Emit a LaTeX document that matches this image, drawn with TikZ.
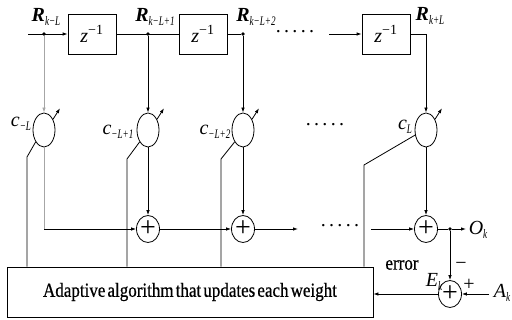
\documentclass[tikz,border=0pt]{standalone}
\usepackage{fontspec}
\setmainfont{Liberation Serif}
\newfontfamily\narrowserif[FakeStretch=0.85,WordSpace=0.5,FakeBold=0.6]{Liberation Serif}
\newfontfamily\subserif[FakeStretch=0.7]{Liberation Serif}
\usetikzlibrary{shapes.geometric,arrows.meta}

\newcommand{\sig}[2]{\textit{#1}\raisebox{-4pt}{\fontsize{13}{13}\selectfont\mdseries\subserif\itshape #2}}

\begin{document}
\begin{tikzpicture}[x=1pt,y=-1pt,line width=0.8pt,
		every node/.style={font=\fontsize{20}{22}\selectfont},
		delay/.style={draw,minimum width=48pt,minimum height=40pt,inner sep=0pt},
		weight/.style={draw,ellipse,minimum width=22pt,minimum height=34pt,inner sep=0pt},
		adder/.style={draw,ellipse,minimum width=23pt,minimum height=27pt,inner sep=0pt,
			font=\fontsize{28}{28}\selectfont},
		tap/.style={circle,fill,inner sep=1.4pt},
		tapname/.style={font=\fontsize{20}{22}\selectfont\bfseries},
		arr/.style={-{Latex[length=5pt,width=3.5pt]}},
		faint/.style={gray!70}]
		\useasboundingbox (0,0) rectangle (512,320);

		% delay line
		\coordinate (in) at (28,34);
		\node[tap] (t1) at (44,34) {};
		\node[delay] (d1) at (92,34) {\textit{z}\textsuperscript{−1}};
		\node[tap] (t2) at (148,34) {};
		\node[delay] (d2) at (203,34) {\textit{z}\textsuperscript{−1}};
		\node[tap] (t3) at (243,34) {};
		\node (hdots) at (295,32) {.\,.\,.\,.\,.};
		\coordinate (dl) at (329,34);
		\node[delay] (d3) at (386,34) {\textit{z}\textsuperscript{−1}};
		\coordinate (t4) at (426,34);

		\draw[arr] (in) -- (d1.west);
		\draw (d1.east) -- (d2.west);
		\draw (d2.east) -- (t3);
		\draw[arr] (dl) -- (d3.west);
		\draw (d3.east) -- (t4);

		\node[tapname] (r1) at (46,17) {\sig{R}{k−L}};
		\node[tapname] (r2) at (155,17) {\sig{R}{k−L+1}};
		\node[tapname] (r3) at (256,17) {\sig{R}{k−L+2}};
		\node[tapname] (r4) at (430,16) {\sig{R}{k+L}};

		% weights
		\node[weight] (w1) at (44,130) {};
		\node[weight] (w2) at (148,130) {};
		\node[weight] (w3) at (243,130) {};
		\node[weight] (w4) at (426,130) {};
		\node (vdots) at (325,125) {.\,.\,.\,.\,.};

		\draw[arr,faint] (t1) -- (w1.north);
		\draw[arr] (t2) -- (w2.north);
		\draw[arr] (t3) -- (w3.north);
		\draw[arr] (t4) -- (w4.north);

		\foreach \w in {w1, w2, w3, w4}
			\draw[-{Latex[length=5pt,width=3.5pt]}] (\w.50) -- ++(7,-11);

		\node (c1) at (21,124) {\sig{c}{−L}};
		\node (c2) at (118,132) {\sig{c}{−L+1}};
		\node (c3) at (215,132) {\sig{c}{−L+2}};
		\node (c4) at (405,127) {\sig{c}{L}};

		% adders
		\node[adder] (s2) at (148,229) {+};
		\node[adder] (s3) at (243,229) {+};
		\node[adder] (s4) at (426,229) {+};
		\node (sdots) at (340,226) {.\,.\,.\,.\,.};
		\coordinate (s1) at (44,229);
		\coordinate (sr) at (298,229);
		\coordinate (sl) at (371,229);
		\node[tap] (o) at (450,229) {};
		\coordinate (oe) at (466,229);
		\node (ok) at (478,230) {\sig{O}{k}};

		\draw[faint] (w1.south) -- (s1);
		\draw[arr] (s1) -- (s2.west);
		\draw[arr] (w2.south) -- (s2.north);
		\draw[arr] (w3.south) -- (s3.north);
		\draw[arr] (w4.south) -- (s4.north);
		\draw[arr] (s2.east) -- (s3.west);
		\draw[arr] (s3.east) -- (sr);
		\draw[arr] (sl) -- (s4.west);
		\draw (s4.east) -- (o);
		\draw[arr] (o) -- (oe);

		% adaptive algorithm
		\node[draw,minimum width=366pt,minimum height=50pt] (alg) at (190,292)
			{\narrowserif Adaptive algorithm that updates each weight};

		\coordinate (b1) at (27,157);
		\coordinate (b2) at (127,159);
		\coordinate (b3) at (221,159);
		\coordinate (b4) at (364,165);
		\draw (w1.235) -- (b1) -- (b1 |- alg.north);
		\draw (w2.235) -- (b2) -- (b2 |- alg.north);
		\draw (w3.235) -- (b3) -- (b3 |- alg.north);
		\draw (w4.205) -- (b4) -- (b4 |- alg.north);

		% error
		\node[adder] (se) at (450,294) {+};
		\coordinate (ain) at (489,294);
		\node (ak) at (502,293) {\sig{A}{k}};
		\node (ek) at (434,282) {\sig{E}{k}};
		\node (err) at (402,265) {\narrowserif error};
		\node (minus) at (461,266) {−};
		\node (plus) at (469,285) {+};

		\draw[arr] (o) -- (se.north);
		\draw[arr] (ain) -- (se.east);
		\draw[arr] (se.west) -- (alg.east |- se.west);
	\end{tikzpicture}
\end{document}
